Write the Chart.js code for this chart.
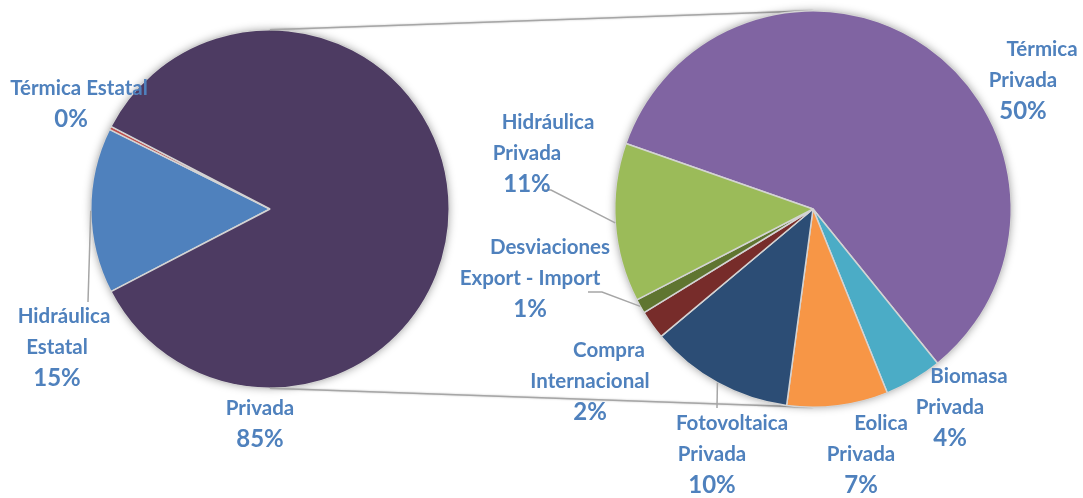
<!DOCTYPE html>
<html>
<head>
<meta charset="utf-8">
<script src="https://cdn.jsdelivr.net/npm/chart.js@4.4.1/dist/chart.umd.min.js"></script>
<style>
html,body{margin:0;padding:0;background:#fff;}
#wrap{position:relative;width:1083px;height:498px;overflow:hidden;}
#wrap canvas{position:absolute;left:0;top:0;}
</style>
</head>
<body>
<div id="wrap">
<canvas id="leftPie" width="1083" height="498"></canvas>
<canvas id="rightPie" width="1083" height="498"></canvas>
</div>
<script>
// primer pastel: generación total
const leftLabels = [['Hidráulica', 'Estatal'], ['Térmica Estatal'], ['Privada']];
const leftValues = [15, 0.3, 85];
const leftColors = ['#4f81bd', '#c0504d', '#4d3b62'];

// segundo pastel: desglose de "Privada"
const rightLabels = [['Térmica', 'Privada'], ['Biomasa', 'Privada'], ['Eolica', 'Privada'],
  ['Fotovoltaica', 'Privada'], ['Compra', 'Internacional'], ['Desviaciones', 'Export - Import'],
  ['Hidráulica', 'Privada']];
const rightValues = [50, 4, 7, 10, 2, 1, 11];
const rightColors = ['#8064a2', '#4bacc6', '#f79646', '#2c4d75', '#772c2a', '#5f7530', '#9bbb59'];

const total = leftValues.reduce((a, b) => a + b, 0);

// posiciones de las etiquetas (centro del bloque, y de la primera línea)
const leftSpots = [{x: 57, y: 316, shift: 7}, {x: 71, y: 88, shift: 8}, {x: 260, y: 408, shift: 0}];
const rightSpots = [
  {x: 1023, y: 49, shift: 19}, {x: 950, y: 376, shift: 19}, {x: 861, y: 423, shift: 20},
  {x: 712, y: 423, shift: 20}, {x: 590, y: 350, shift: 19}, {x: 530, y: 247, shift: 20},
  {x: 527, y: 122, shift: 21}
];
const leftLeaders = [{index: 0, pts: [[88, 302]]}];
const rightLeaders = [
  {index: 6, pts: [[542, 190], [551, 190]]},
  {index: 5, pts: [[588, 292], [602, 292]]},
  {index: 3, pts: [[717, 408]]}
];

const textColor = '#4f81bd';
const nameFont = 'bold 20.5px Lato';
const pctFont = 'bold 24px Lato';
const lineGap = 31;
const lineColor = '#a6a6a6';

function drawLabels(chart, labels, values, spots) {
  const ctx = chart.ctx;
  ctx.save();
  ctx.fillStyle = textColor;
  ctx.textAlign = 'center';
  ctx.textBaseline = 'middle';
  spots.forEach((s, i) => {
    const lines = labels[i];
    ctx.font = nameFont;
    lines.forEach((t, k) => {
      ctx.fillText(t, s.x + (k === 0 ? s.shift : 0), s.y + k * lineGap);
    });
    ctx.font = pctFont;
    ctx.fillText(Math.round(values[i] / total * 100) + '%', s.x, s.y + lines.length * lineGap);
  });
  ctx.restore();
}

function drawLeaders(chart, leaders) {
  const ctx = chart.ctx;
  const arcs = chart.getDatasetMeta(0).data;
  ctx.save();
  ctx.strokeStyle = lineColor;
  ctx.lineWidth = 1.5;
  leaders.forEach(l => {
    const a = arcs[l.index];
    const mid = (a.startAngle + a.endAngle) / 2;
    ctx.beginPath();
    ctx.moveTo(l.pts[0][0], l.pts[0][1]);
    l.pts.slice(1).forEach(p => ctx.lineTo(p[0], p[1]));
    ctx.lineTo(a.x + Math.cos(mid) * a.outerRadius, a.y + Math.sin(mid) * a.outerRadius);
    ctx.stroke();
  });
  ctx.restore();
}

// sombra suave alrededor del pastel
const pieShadow = {
  id: 'pieShadow',
  beforeDatasetsDraw(chart) {
    const a = chart.getDatasetMeta(0).data[0];
    const ctx = chart.ctx;
    ctx.save();
    ctx.shadowColor = 'rgba(0,0,0,0.35)';
    ctx.shadowBlur = 8;
    ctx.fillStyle = '#fff';
    ctx.beginPath();
    ctx.arc(a.x, a.y, a.outerRadius, 0, Math.PI * 2);
    ctx.fill();
    ctx.restore();
  }
};

function pieOptions(rotation, padding) {
  return {
    responsive: false,
    animation: false,
    events: [],
    rotation: rotation,
    layout: {padding: padding},
    plugins: {legend: {display: false}, tooltip: {enabled: false}}
  };
}

// el "otro" (Privada) queda centrado a la derecha, como en Excel
const privadaDeg = leftValues[2] / total * 360;

const leftChart = new Chart(document.getElementById('leftPie'), {
  type: 'pie',
  data: {
    labels: leftLabels,
    datasets: [{data: leftValues, backgroundColor: leftColors, borderColor: '#d4d4d4', borderWidth: 1.5}]
  },
  options: pieOptions(privadaDeg / 2 + 90, {left: 90, right: 633, top: 29, bottom: 109}),
  plugins: [pieShadow, {
    id: 'leftText',
    afterDatasetsDraw(chart) {
      drawLeaders(chart, leftLeaders);
      drawLabels(chart, leftLabels, leftValues, leftSpots);
    }
  }]
});

const rightChart = new Chart(document.getElementById('rightPie'), {
  type: 'pie',
  data: {
    labels: rightLabels,
    datasets: [{data: rightValues, backgroundColor: rightColors, borderColor: '#d4d4d4', borderWidth: 1.5}]
  },
  options: pieOptions(289.3, {left: 614, right: 71, top: 10, bottom: 90}),
  plugins: [{
    id: 'connectors',
    beforeDatasetsDraw(chart) {
      // líneas que unen los dos pasteles
      const l = leftChart.getDatasetMeta(0).data[0];
      const r = chart.getDatasetMeta(0).data[0];
      const ctx = chart.ctx;
      ctx.save();
      ctx.strokeStyle = lineColor;
      ctx.lineWidth = 1.5;
      ctx.shadowColor = 'rgba(0,0,0,0.25)';
      ctx.shadowBlur = 2;
      ctx.beginPath();
      ctx.moveTo(l.x, l.y - l.outerRadius);
      ctx.lineTo(r.x, r.y - r.outerRadius);
      ctx.moveTo(l.x, l.y + l.outerRadius);
      ctx.lineTo(r.x, r.y + r.outerRadius);
      ctx.stroke();
      ctx.restore();
    }
  }, pieShadow, {
    id: 'rightText',
    afterDatasetsDraw(chart) {
      drawLeaders(chart, rightLeaders);
      drawLabels(chart, rightLabels, rightValues, rightSpots);
    }
  }]
});
</script>
</body>
</html>
